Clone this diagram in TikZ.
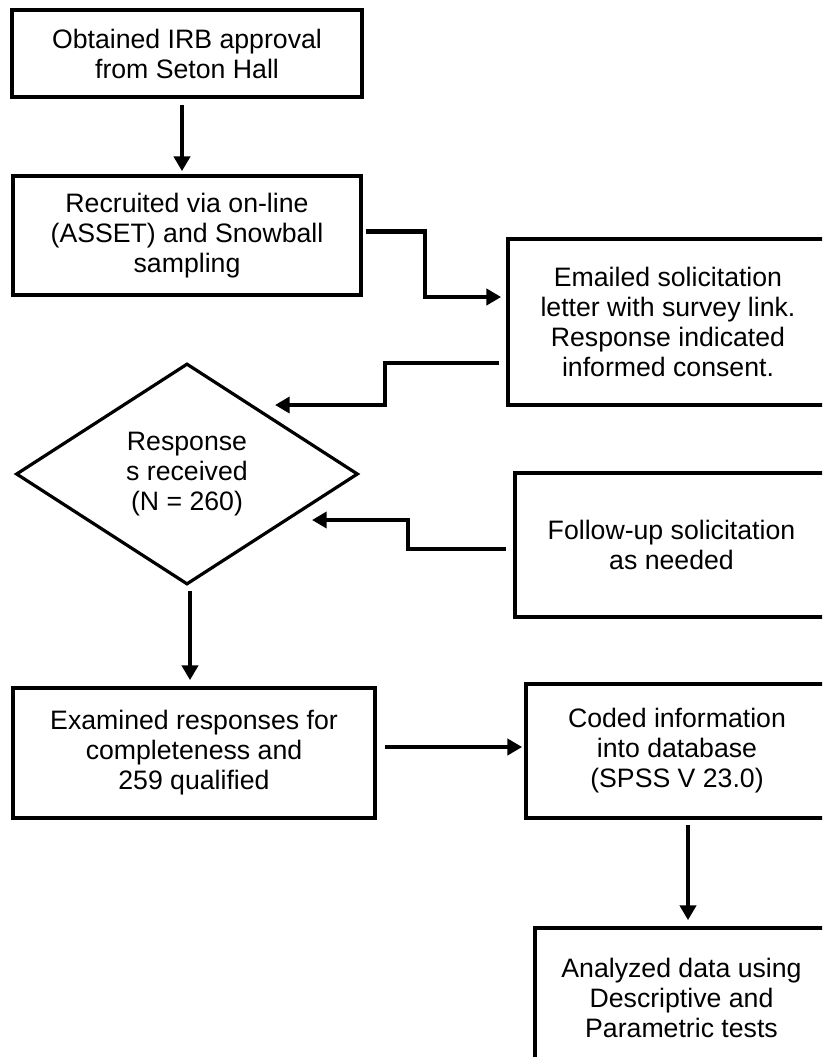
\documentclass[tikz,border=0pt]{standalone}
\usepackage{fontspec}
\setmainfont{Liberation Sans}
\usetikzlibrary{shapes.geometric,arrows.meta,calc}

\tikzset{
  stepbox/.style={draw, line width=2.8pt, align=center, inner sep=0pt,
    font=\fontsize{20}{22.5}\selectfont},
  boxsize/.style 2 args={minimum width=#1*0.75pt, minimum height=#2*0.75pt},
  choice/.style={draw, diamond, line width=2.4pt, align=center, inner sep=0pt,
    minimum width=342*0.75pt, minimum height=221*0.75pt,
    font=\fontsize{20}{22.5}\selectfont},
  link/.style={line width=3.4pt, -{Triangle[length=11pt,width=12pt]}}
}

\begin{document}
\begin{tikzpicture}[x=0.75pt,y=-0.75pt]
  \useasboundingbox (0,0) rectangle (822,1057);
  \clip (0,0) rectangle (822,1057);
  % steps
  \node[stepbox, boxsize={350}{87}] (irb) at (187,53.5) {Obtained IRB approval\\from Seton Hall};
  \node[stepbox, boxsize={348}{119}] (recruit) at (187,235.5) {Recruited via on-line\\(ASSET) and Snowball\\sampling};
  \node[stepbox, boxsize={320}{166}] (email) at (668,322) {Emailed solicitation\\letter with survey link.\\Response indicated\\informed consent.};
  \node[choice] (resp) at (187,474) {Response\\s received\\(N = 260)};
  \node[stepbox, boxsize={313}{144}] (follow) at (671.5,545) {Follow-up solicitation\\as needed};
  \node[stepbox, boxsize={362}{130}] (exam) at (194,753) {Examined responses for\\completeness and\\259 qualified};
  \node[stepbox, boxsize={302}{134}] (coded) at (677,751) {Coded information\\into database\\(SPSS V 23.0)};
  \node[stepbox, boxsize={293}{140}] (anal) at (681.5,998) {Analyzed data using\\Descriptive and\\Parametric tests};
  % connectors
  \draw[link] ($(irb.south)+(-5,6)$) -- ($(recruit.north)+(-5,-3)$);
  \draw[link] ($(recruit.east)+(3,-4)$) -| ($(email.west)+(-81,-25)$) -- ($(email.west)+(-5,-25)$);
  \draw[link] ($(email.west)+(-7,41)$) -| ($(resp.center)+(198,-69)$) -- ($(resp.center)+(88,-69)$);
  \draw[link] ($(follow.west)+(-7,4)$) -| ($(resp.center)+(221,46)$) -- ($(resp.center)+(125,46)$);
  \draw[link] ($(resp.south)+(3,5)$) -- ($(exam.north)+(-4,-6)$);
  \draw[link] ($(exam.east)+(8,-6)$) -- ($(coded.west)+(-2,-4)$);
  \draw[link] ($(coded.south)+(11,5)$) -- ($(anal.north)+(6.5,-6)$);
\end{tikzpicture}
\end{document}
